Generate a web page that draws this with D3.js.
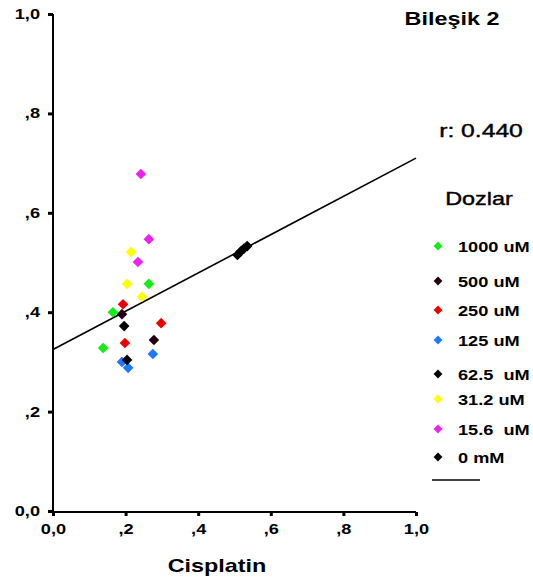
<!DOCTYPE html>
<html><head><meta charset="utf-8">
<script src="https://cdn.jsdelivr.net/npm/d3@7"></script>
<style>body{margin:0;background:#fff;} svg{display:block;font-family:Arial,"Liberation Sans",sans-serif;}</style>
</head><body>
<svg id="c" width="533" height="585"></svg>
<script>
const doses = ["1000 uM","500 uM","250 uM","125 uM","62.5  uM","31.2 uM","15.6  uM","0 mM"];
const colors = ["#11ee11","#200012","#ee0000","#1e78ff","#000000","#ffff00","#ee22ee","#000000"];
const xVals = [
  [0.264,0.165,0.138],
  [0.190,0.278],
  [0.193,0.298,0.198],
  [0.275,0.190,0.207],
  [0.196,0.204],
  [0.215,0.204,0.245],
  [0.242,0.264,0.234],
  [0.508,0.517,0.526,0.535]
];
const yVals = [
  [0.457,0.400,0.328],
  [0.396,0.344],
  [0.416,0.378,0.338],
  [0.316,0.300,0.288],
  [0.372,0.304],
  [0.521,0.457,0.431],
  [0.678,0.547,0.501],
  [0.515,0.522,0.528,0.533]
];
const xTicks = [0,0.2,0.4,0.6,0.8,1.0];
const xTickLabels = ["0,0",",2",",4",",6",",8","1,0"];
const yTicks = [0,0.2,0.4,0.6,0.8,1.0];
const yTickLabels = ["0,0",",2",",4",",6",",8","1,0"];
const fitLine = [[0,0.325],[1,0.71]];
const title = "Bileşik 2";
const rText = "r: 0.440";
const legendTitle = "Dozlar";
const xTitle = "Cisplatin";

const SX = 1.3; // horizontal stretch of the reference's text
const svg = d3.select("#c");
const x = d3.scaleLinear().domain([0,1]).range([53,416]);
const y = d3.scaleLinear().domain([0,1]).range([511,14]);

// axes
const xa = svg.append("g").attr("transform","translate(0,512)")
  .call(d3.axisBottom(x).tickValues(xTicks).tickFormat((d,i)=>xTickLabels[i]).tickSize(4).tickPadding(5));
const ya = svg.append("g").attr("transform","translate(53,0)")
  .call(d3.axisLeft(y).tickValues(yTicks).tickFormat((d,i)=>yTickLabels[i]).tickSize(5).tickPadding(4));
[xa,ya].forEach(a=>{
  a.select(".domain").attr("stroke","#000").attr("stroke-width",2);
  a.selectAll(".tick line").attr("stroke","#000").attr("stroke-width",3);
  a.selectAll(".tick text").attr("font-size",14).attr("font-weight","bold").attr("fill","#000")
   .attr("font-family","Arial,'Liberation Sans',sans-serif")
   .attr("transform",`scale(${SX},1)`);
});
xa.selectAll(".tick text").attr("dy","0.95em");
ya.selectAll(".tick text").attr("x",-13/SX);
xa.select(".domain").attr("d","M53,0H416");
ya.select(".domain").attr("d","M0,14V512");

// fit line
svg.append("path").datum(fitLine)
  .attr("d", d3.line().x(d=>x(d[0])).y(d=>y(d[1])))
  .attr("stroke","#000").attr("stroke-width",1.6).attr("fill","none");

// points
const sym = d3.symbol().type(d3.symbolDiamond2).size(72);
doses.forEach((dname,i)=>{
  const pts = xVals[i].map((v,j)=>[v,yVals[i][j]]);
  svg.append("g").selectAll("path").data(pts).join("path")
    .attr("d", sym)
    .attr("transform", d=>`translate(${x(d[0])},${y(d[1])})`)
    .attr("fill", colors[i]);
});

function txt(tx,ty,s,size,weight,anchor){
  return svg.append("text").attr("transform",`translate(${tx},${ty}) scale(${SX},1)`)
    .attr("text-anchor",anchor||"start").attr("font-size",size).attr("font-weight",weight)
    .attr("fill","#000").style("white-space","pre").text(s);
}
txt(452,25,title,18,"bold","middle");
txt(481,137,rText,19,"normal","middle").attr("stroke","#000").attr("stroke-width",0.4);
txt(479,205,legendTitle,18,"normal","middle").attr("stroke","#000").attr("stroke-width",0.4);
txt(217,572,xTitle,18,"bold","middle");

// legend
const legY = [246,281,310,340,374,399,429,457];
const lsym = d3.symbol().type(d3.symbolDiamond2).size(50);
doses.forEach((dname,i)=>{
  svg.append("path").attr("d",lsym)
    .attr("transform",`translate(438,${legY[i]})`).attr("fill",colors[i]);
  txt(458,legY[i]+6,dname,14,"bold","start");
});
svg.append("line").attr("x1",432).attr("x2",480).attr("y1",480).attr("y2",480)
  .attr("stroke","#000").attr("stroke-width",1.5);
</script>
</body></html>
